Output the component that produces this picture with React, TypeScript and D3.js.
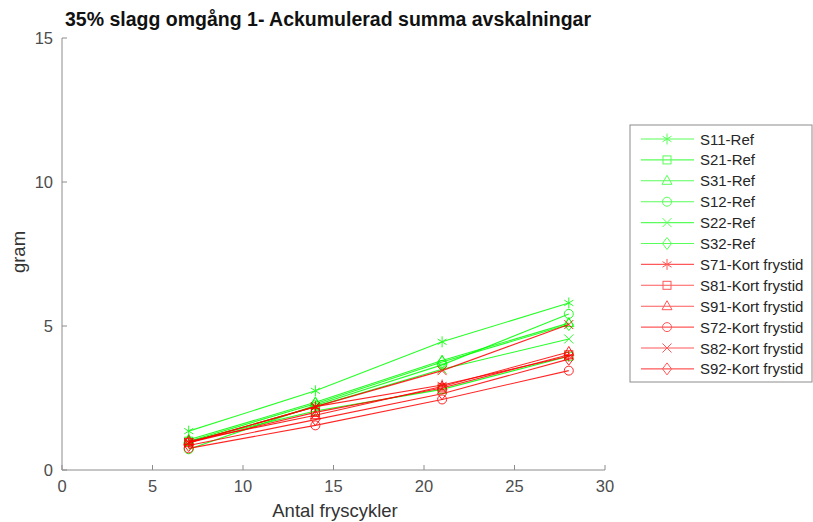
import React, { useEffect, useRef } from 'react';
import * as d3 from 'd3';

const cycles = [7, 14, 21, 28];
const seriesNames = [
  'S11-Ref', 'S21-Ref', 'S31-Ref', 'S12-Ref', 'S22-Ref', 'S32-Ref',
  'S71-Kort frystid', 'S81-Kort frystid', 'S91-Kort frystid',
  'S72-Kort frystid', 'S82-Kort frystid', 'S92-Kort frystid',
];
const markers = ['asterisk', 'square', 'triangle', 'circle', 'cross', 'diamond',
  'asterisk', 'square', 'triangle', 'circle', 'cross', 'diamond'];
const groups = ['ref', 'ref', 'ref', 'ref', 'ref', 'ref', 'kort', 'kort', 'kort', 'kort', 'kort', 'kort'];

const s11 = [1.35, 2.75, 4.45, 5.8];
const s21 = [1.0, 2.05, 2.8, 3.95];
const s31 = [1.05, 2.35, 3.8, 5.1];
const s12 = [0.72, 2.25, 3.65, 5.42];
const s22 = [0.95, 2.2, 3.5, 4.55];
const s32 = [1.0, 2.3, 3.75, 5.05];
const s71 = [0.95, 2.2, 2.95, 3.95];
const s81 = [0.95, 2.0, 2.85, 4.0];
const s91 = [1.0, 1.9, 2.9, 4.1];
const s72 = [0.75, 1.55, 2.45, 3.45];
const s82 = [0.95, 2.2, 3.45, 5.05];
const s92 = [0.85, 1.75, 2.65, 3.85];
const seriesValues = [s11, s21, s31, s12, s22, s32, s71, s81, s91, s72, s82, s92];

const xTicks = [0, 5, 10, 15, 20, 25, 30];
const yTicks = [0, 5, 10, 15];

const colorFor = (g: string) => (g === 'ref' ? '#00ff00' : '#ff0000');
const font = '"Liberation Sans", Arial, sans-serif';

function drawMarker(g: any, type: string, x: number, y: number, color: string) {
  const r = 4.5;
  const base = { fill: 'none', stroke: color, 'stroke-width': 1 };
  const set = (sel: any) => {
    Object.entries(base).forEach(([k, v]) => sel.attr(k, v));
    return sel;
  };
  if (type === 'circle') {
    set(g.append('circle').attr('cx', x).attr('cy', y).attr('r', r));
  } else if (type === 'square') {
    set(g.append('rect').attr('x', x - 4).attr('y', y - 4).attr('width', 8).attr('height', 8));
  } else if (type === 'triangle') {
    set(g.append('path').attr('d', `M${x},${y - 5.5}L${x + 5},${y + 3.5}L${x - 5},${y + 3.5}Z`));
  } else if (type === 'diamond') {
    set(g.append('path').attr('d', `M${x},${y - 6}L${x + 4.5},${y}L${x},${y + 6}L${x - 4.5},${y}Z`));
  } else if (type === 'cross') {
    set(g.append('path').attr('d', `M${x - r},${y - r}L${x + r},${y + r}M${x - r},${y + r}L${x + r},${y - r}`));
  } else {
    set(g.append('path').attr('d',
      `M${x},${y - 5.5}L${x},${y + 5.5}M${x - 4.5},${y - 2.8}L${x + 4.5},${y + 2.8}M${x - 4.5},${y + 2.8}L${x + 4.5},${y - 2.8}`));
  }
}

const App = () => {
  const ref = useRef<SVGSVGElement>(null);

  useEffect(() => {
    const svg = d3.select(ref.current);
    svg.selectAll('*').remove();

    const left = 62, right = 605, top = 38, bottom = 470;
    const x = d3.scaleLinear().domain([0, 30]).range([left, right]);
    const y = d3.scaleLinear().domain([0, 15]).range([bottom, top]);

    // axes (left + bottom only, inward ticks)
    const axes = svg.append('g').attr('font-family', font);
    axes.append('path')
      .attr('d', `M${left},${top}V${bottom}H${right}`)
      .attr('fill', 'none').attr('stroke', '#8c8c8c').attr('stroke-width', 1);

    xTicks.forEach(t => {
      axes.append('line').attr('x1', x(t)).attr('x2', x(t)).attr('y1', bottom).attr('y2', bottom - 5)
        .attr('stroke', '#8c8c8c');
      axes.append('text').attr('x', x(t)).attr('y', bottom + 22).attr('text-anchor', 'middle')
        .attr('font-size', 16.5).attr('fill', '#4d4d4d').text(t);
    });
    yTicks.forEach(t => {
      axes.append('line').attr('x1', left).attr('x2', left + 5).attr('y1', y(t)).attr('y2', y(t))
        .attr('stroke', '#8c8c8c');
      axes.append('text').attr('x', left - 9).attr('y', y(t) + 6).attr('text-anchor', 'end')
        .attr('font-size', 16.5).attr('fill', '#4d4d4d').text(t);
    });

    axes.append('text').attr('x', 335).attr('y', 517).attr('text-anchor', 'middle')
      .attr('font-size', 18.5).attr('fill', '#333').text('Antal fryscykler');
    axes.append('text').attr('transform', `translate(25,${(top + bottom) / 2 - 2}) rotate(-90)`)
      .attr('text-anchor', 'middle').attr('font-size', 18.5).attr('fill', '#333').text('gram');
    axes.append('text').attr('x', 328).attr('y', 26).attr('text-anchor', 'middle')
      .attr('font-size', 19.5).attr('font-weight', 'bold').attr('fill', '#111')
      .text('35% slagg omgång 1- Ackumulerad summa avskalningar');

    // series
    const line = d3.line<number>().x((_, i) => x(cycles[i])).y(d => y(d));
    const plot = svg.append('g');
    seriesValues.forEach((vals, si) => {
      const color = colorFor(groups[si]);
      const g = plot.append('g').attr('opacity', 0.85);
      g.append('path').datum(vals).attr('d', line).attr('fill', 'none')
        .attr('stroke', color).attr('stroke-width', 1.1);
      vals.forEach((v, i) => drawMarker(g, markers[si], x(cycles[i]), y(v), color));
    });

    // legend
    const lx = 630, ly = 125, lw = 182, lh = 257;
    const legend = svg.append('g').attr('font-family', font);
    legend.append('rect').attr('x', lx).attr('y', ly).attr('width', lw).attr('height', lh)
      .attr('fill', '#fff').attr('stroke', '#8c8c8c');
    seriesNames.forEach((name, i) => {
      const cy = 139 + i * 20.9;
      const color = colorFor(groups[i]);
      const g = legend.append('g').attr('opacity', 0.65);
      g.append('line').attr('x1', 641).attr('x2', 694).attr('y1', cy).attr('y2', cy)
        .attr('stroke', color).attr('stroke-width', 1.1);
      drawMarker(g, markers[i], 667, cy, color);
      legend.append('text').attr('x', 700).attr('y', cy + 5.5).attr('font-size', 15)
        .attr('fill', '#262626').text(name);
    });
  }, []);

  return <svg ref={ref} width={813} height={522} style={{ position: 'absolute', left: 0, top: 0, background: '#fff' }} />;
};

export default App;
